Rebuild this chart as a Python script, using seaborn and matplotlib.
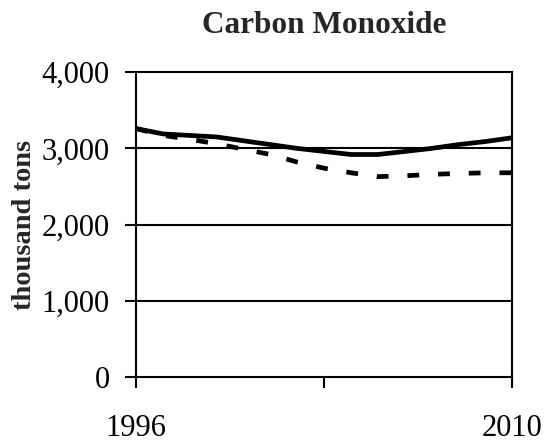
import pandas as pd
import matplotlib.pyplot as plt
import seaborn as sns

years = list(range(1996, 2011))
solid_vals = [3260, 3190, 3170, 3150, 3100, 3050, 3000, 2960, 2920, 2920, 2960, 3000, 3050, 3090, 3140]
dashed_vals = [3260, 3170, 3120, 3060, 2990, 2920, 2820, 2740, 2680, 2630, 2640, 2660, 2670, 2680, 2680]
series_names = ["solid", "dashed"]

df = pd.concat([
    pd.DataFrame({"year": years, "value": solid_vals, "series": series_names[0]}),
    pd.DataFrame({"year": years, "value": dashed_vals, "series": series_names[1]}),
])

sns.set_style("white")
plt.rcParams["font.family"] = ["Liberation Serif", "DejaVu Serif"]

fig = plt.figure(figsize=(5.49, 4.43), dpi=100)
ax = fig.add_axes([0.248, 0.149, 0.685, 0.688])

for yv in [1000, 2000, 3000]:
    ax.axhline(yv, color="black", lw=1.5, zorder=1)

sns.lineplot(data=df, x="year", y="value", style="series", color="black",
             dashes={"solid": "", "dashed": (2.5, 4)}, linewidth=3.4,
             legend=False, ax=ax, zorder=3)

ax.set_xlim(1996, 2010)
ax.set_ylim(0, 4000)
ax.set_xticks([1996, 2003, 2010])
ax.set_xticklabels(["1996", "", "2010"])
ax.set_yticks([0, 1000, 2000, 3000, 4000])
ax.set_yticklabels(["0", "1,000", "2,000", "3,000", "4,000"])
ax.tick_params(axis="both", direction="out", length=8, width=1.5, labelsize=22,
               colors="black", bottom=True, left=True)
ax.tick_params(axis="x", pad=19)
ax.tick_params(axis="y", pad=11)
for s in ax.spines.values():
    s.set_color("black")
    s.set_linewidth(1.5)

ax.set_xlabel("")
ax.set_ylabel("thousand tons", fontsize=20.5, fontweight="bold", labelpad=3)
ax.set_title("Carbon Monoxide", fontsize=22.5, fontweight="bold", pad=28)

fig.savefig("out.png", dpi=100)
